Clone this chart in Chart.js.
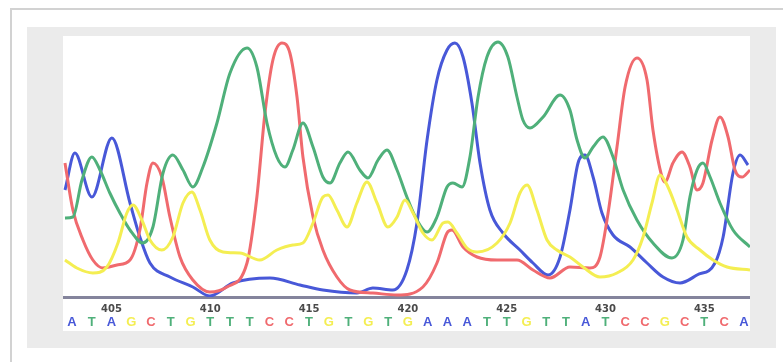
<!DOCTYPE html>
<html>
<head>
<meta charset="utf-8">
<script src="https://cdn.jsdelivr.net/npm/chart.js@4"></script>
<style>
  html, body { margin: 0; padding: 0; background: #fff; }
  body { width: 783px; height: 362px; position: relative; overflow: hidden; }
  #frame { position: absolute; left: 10px; top: 8px; right: 0; bottom: 0; border-left: 2px solid #d2d2d2; border-top: 2px solid #d2d2d2; }
  #panel { position: absolute; left: 27px; top: 27px; width: 749px; height: 321px; background: #ebebeb; }
  #plot { position: absolute; left: 63px; top: 36px; width: 687px; height: 295px; background: #fff; }
</style>
</head>
<body>
<div id="frame"></div>
<div id="panel"></div>
<div id="plot"><canvas id="trace" width="687" height="295"></canvas></div>
<script>
// base calls, first one is position 403
const firstBase = 403;
const bases = "ATAGCTGTTTCCTGTGTGAAATTGTTATCCGCTCA".split("");
const tickPositions = [405, 410, 415, 420, 425, 430, 435];

// traces: [base position, signal]
const traceA = [
  [402.65,107],[403.15,144],[404.01,100],[405.02,159],[405.94,94],[406.44,60],[406.95,34],
  [407.96,20],[409.12,10],[409.98,1],[411.15,14],[413.02,19],[414.54,12],[415.70,7],
  [417.42,4],[418.23,9],[419.24,7],[419.95,27],[420.46,74],[420.97,157],[421.47,217],
  [421.98,247],[422.38,254],[422.79,240],[423.24,194],[423.65,134],[424.15,87],[424.81,64],
  [425.67,47],[426.33,34],[427.09,22],[427.70,40],[428.20,87],[428.61,134],[428.96,142],
  [429.37,120],[429.82,84],[430.38,62],[431.24,50],[432.10,34],[432.91,20],[433.77,14],
  [434.63,22],[435.54,34],[435.95,60],[436.45,124],[436.81,142],[437.21,132]
];
const traceC = [
  [402.65,134],[403.05,87],[403.56,57],[404.06,37],[404.57,29],[405.28,32],[405.94,37],
  [406.44,67],[406.80,114],[407.10,134],[407.55,120],[407.96,80],[408.47,40],[409.12,17],
  [409.98,5],[410.84,10],[411.86,34],[412.36,100],[412.77,184],[413.17,237],[413.63,254],
  [414.03,244],[414.39,200],[414.69,140],[415.20,80],[415.70,47],[416.41,20],[417.07,7],
  [418.23,4],[419.45,2],[420.76,10],[421.47,34],[421.98,64],[422.23,67],[422.79,50],
  [423.50,40],[424.51,37],[425.52,37],[426.33,27],[427.19,19],[428.20,30],[429.21,29],
  [429.72,40],[430.13,84],[430.58,150],[430.99,210],[431.59,239],[432.10,217],[432.40,167],
  [432.86,120],[433.01,115],[433.41,134],[433.87,145],[434.27,130],[434.63,107],[434.93,114],
  [435.39,157],[435.79,180],[436.20,160],[436.55,127],[436.91,120],[437.31,127]
];
const traceT = [
  [402.65,79],[403.05,80],[403.51,117],[404.01,140],[404.42,127],[404.92,104],[405.43,84],
  [405.94,67],[406.59,54],[407.10,70],[407.61,124],[408.11,142],[408.62,127],[409.12,110],
  [409.63,130],[410.34,174],[411.00,224],[411.86,249],[412.36,230],[412.87,174],[413.37,140],
  [413.78,130],[414.18,147],[414.69,174],[415.20,150],[415.70,120],[416.06,114],[416.56,134],
  [416.97,145],[417.57,127],[417.98,119],[418.49,137],[418.94,147],[419.45,127],[419.95,100],
  [420.46,77],[420.97,65],[421.47,80],[421.98,110],[422.28,114],[422.74,110],[423.14,140],
  [423.55,200],[424.00,240],[424.56,255],[425.06,240],[425.52,200],[425.82,177],[426.18,169],
  [426.84,180],[427.70,202],[428.20,187],[428.56,157],[428.96,139],[429.37,150],[429.87,160],
  [430.38,140],[430.89,107],[431.59,77],[432.40,54],[433.36,39],[433.92,57],[434.27,100],
  [434.63,127],[434.93,134],[435.29,120],[435.79,94],[436.45,67],[437.31,50]
];
const traceG = [
  [402.65,37],[403.25,29],[404.06,24],[404.77,30],[405.33,54],[405.78,84],[406.09,92],
  [406.54,77],[406.95,57],[407.55,47],[408.11,60],[408.62,94],[409.07,105],[409.48,87],
  [409.98,57],[410.64,45],[411.50,44],[412.51,37],[413.37,47],[414.18,52],[414.69,54],
  [415.20,74],[415.70,100],[415.96,102],[416.41,87],[416.92,70],[417.42,94],[417.93,115],
  [418.44,94],[418.99,70],[419.45,80],[419.85,97],[420.26,84],[420.76,64],[421.22,57],
  [421.78,74],[422.03,75],[422.48,64],[422.99,49],[423.50,45],[424.51,54],[425.17,74],
  [425.67,104],[426.03,112],[426.53,87],[427.04,57],[427.54,47],[428.20,40],[428.86,30],
  [429.72,20],[430.58,24],[431.39,37],[431.90,60],[432.35,94],[432.76,122],[433.16,110],
  [433.62,87],[434.12,60],[434.78,47],[435.44,37],[436.15,30],[437.31,27]
];

const baseColors = { A: "#4858d8", C: "#f06a6e", G: "#f4ee52", T: "#4fb07a" };

function toPoints(trace) {
  return trace.map(p => ({ x: p[0], y: p[1] }));
}

function lineSet(trace, base) {
  return {
    data: toPoints(trace),
    borderColor: baseColors[base],
    borderWidth: 3,
    pointRadius: 0,
    cubicInterpolationMode: "monotone",
    fill: false
  };
}

const ctx = document.getElementById("trace");

new Chart(ctx, {
  type: "line",
  data: {
    datasets: [
      lineSet(traceG, "G"),
      lineSet(traceT, "T"),
      lineSet(traceC, "C"),
      lineSet(traceA, "A")
    ]
  },
  options: {
    responsive: false,
    animation: false,
    layout: { padding: 0 },
    plugins: { legend: { display: false }, tooltip: { enabled: false } },
    scales: {
      x: {
        type: "linear",
        position: "bottom",
        weight: 0,
        min: 402.55,
        max: 437.31,
        grid: { display: false, drawTicks: false },
        border: { display: true, color: "#84849c", width: 3 },
        afterBuildTicks: axis => { axis.ticks = tickPositions.map(v => ({ value: v })); },
        afterFit: axis => { axis.height = 18; },
        ticks: {
          autoSkip: false,
          maxRotation: 0,
          padding: 6,
          color: "#4a4a4a",
          font: { family: "DejaVu Sans", size: 10, weight: "bold" },
          callback: v => String(v)
        }
      },
      base: {
        type: "linear",
        position: "bottom",
        weight: 1,
        min: 402.55,
        max: 437.31,
        grid: { display: false, drawTicks: false },
        border: { display: false },
        afterBuildTicks: axis => { axis.ticks = bases.map((b, i) => ({ value: firstBase + i })); },
        afterFit: axis => { axis.height = 16; },
        ticks: {
          autoSkip: false,
          maxRotation: 0,
          padding: 0,
          font: { family: "Liberation Sans", size: 13, weight: "bold" },
          color: c => baseColors[bases[Math.round(c.tick.value) - firstBase]],
          callback: v => bases[Math.round(v) - firstBase]
        }
      },
      y: {
        display: false,
        min: 0,
        max: 261
      }
    }
  }
});
</script>
</body>
</html>
